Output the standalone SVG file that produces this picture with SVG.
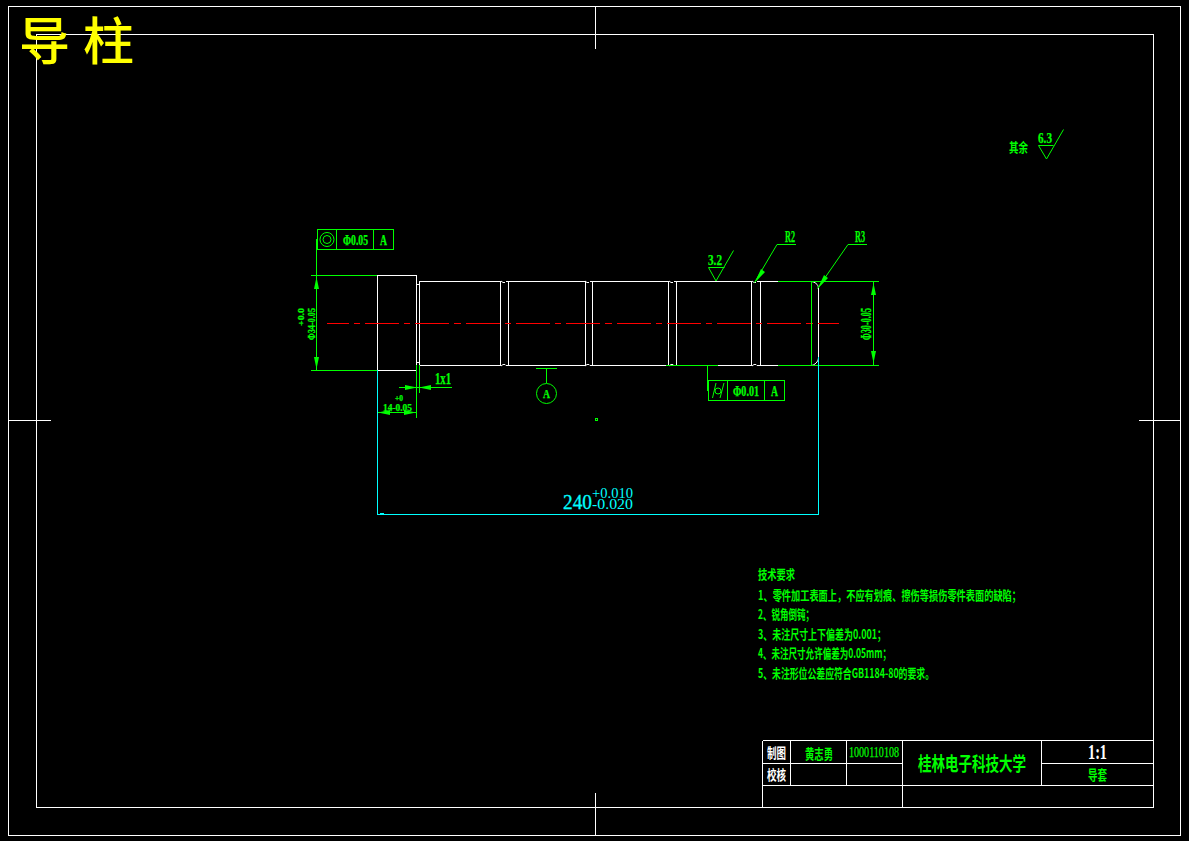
<svg xmlns="http://www.w3.org/2000/svg" width="1189" height="841" viewBox="0 0 1189 841">
<style>
.w{stroke:#fff;fill:none;stroke-width:1}
.g{stroke:#0f0;fill:none;stroke-width:1}
.c{stroke:#0ff;fill:none;stroke-width:1}
.r{stroke:#f00;fill:none;stroke-width:1;stroke-dasharray:34 5 6.3 5;stroke-dashoffset:12.3}
.t{font-family:"Noto Sans CJK SC","Liberation Sans",sans-serif;fill:#0f0;font-weight:700}
.d{font-family:"Liberation Serif","Noto Sans CJK SC",serif;fill:#0f0;font-weight:700;stroke:#0f0;stroke-width:.25}
.a{fill:#0f0;stroke:none}
</style>
<rect width="1189" height="841" fill="#000"/>
<g id="frame" shape-rendering="crispEdges">
<rect class="w" x="8.5" y="6.5" width="1172" height="829"/>
<rect class="w" x="36.5" y="34.5" width="1117" height="773"/>
<path class="w" d="M595.5 6V49M595.5 793V835M8 420.5H51M1139 420.5H1181"/>
</g>
<text id="title" x="19" y="60" font-size="51" textLength="115" lengthAdjust="spacing" style="font-family:'Noto Sans CJK SC',sans-serif;fill:#ff0;font-weight:500">导柱</text>
<g id="part">
<g shape-rendering="crispEdges">
<rect class="w" x="377.5" y="275.5" width="39" height="95"/>
<path class="w" d="M417 284.5H419M417 362.5H419"/>
<path class="w" d="M419.5 281.5H500.5V365.5H419.5Z"/>
<path class="w" d="M508.5 281.5H585.5V365.5H508.5Z"/>
<path class="w" d="M592.5 281.5H668.5V365.5H592.5Z"/>
<path class="w" d="M676.5 281.5H751.5V365.5H676.5Z"/>
<path class="w" d="M778 281.5H760.5V365.5H778"/>
<path class="w" d="M818.5 288V358"/>
</g>
<path class="w" d="M811 281.5C815 282 818 284 818.5 288M811 365.5C815 365 818 362 818.5 358"/>
<path class="w" d="M501 281L503 282.5H505M506 281.5H508M501 366L503 364.5H505L506 365.5H508M585 281L587 282.5H589M590 281.5H592M585 366L587 364.5H589L590 365.5H592M669 281L671 282.5H673M674 281.5H676M669 366L671 364.5H673L674 365.5H676M752 281L754 282.5H756M757 281.5H760M752 366L754 364.5H756L757 365.5H760"/>
</g>
<path id="centerline" class="r" d="M327 323.5H839" shape-rendering="crispEdges"/>
<g id="connectors">
<g shape-rendering="crispEdges">
<path class="g" d="M311 275.5H377M311 370.5H377M316.5 239V370M778 281.5H879M778 365.5H879M666 365.5H718M811.5 281V365M873.5 281V365M416.5 365V418M419.5 365V393M399 387.5H452M378 412.5H416M707.5 365V391"/>
<path class="c" d="M377.5 370V514.5H818.5V357M380 513.5H384"/>
</g>
<path class="a" d="M316.5 277L319 289H314ZM316.5 369L319 357H314ZM873.5 283L876 295H871ZM873.5 363L876 351H871ZM417 387.5L405 385V390ZM419 387.5L431 385V390ZM378 412.5L390 410V415ZM416 412.5L404 410V415Z"/>
<path class="g" d="M708.5 267.5H724.5M708.5 267.5L716 281L733.5 250.5"/>
<path class="g" d="M754.5 282.5L777 244.5H796M817.5 288.5L848 244.5H867"/>
<path class="a" d="M754.5 283L761 269L765 272ZM817.5 289L824 275L828 278Z"/>
<path class="g" d="M1038.5 145.5H1053.5M1038.5 145.5L1046.5 159L1063.5 129.5"/>
<path class="g" d="M536 368.5H557M546.5 368.5V383"/>
<circle class="g" cx="546.5" cy="393.5" r="10"/>
<rect class="g" x="595.5" y="418.5" width="2" height="2" shape-rendering="crispEdges"/>
</g>
<g id="fcf-top">
<rect class="g" x="317.5" y="229.5" width="76" height="20" shape-rendering="crispEdges"/>
<path class="g" d="M336.5 229V249M373.5 229V249" shape-rendering="crispEdges"/>
<circle class="g" cx="327" cy="239.5" r="7"/><circle class="g" cx="327" cy="239.5" r="4"/>
<text class="d" x="343" y="245" font-size="14" textLength="25" lengthAdjust="spacingAndGlyphs">Φ0.05</text>
<text class="d" x="380" y="245" font-size="14" textLength="7" lengthAdjust="spacingAndGlyphs">A</text>
</g>
<g id="fcf-bottom">
<rect class="g" x="708.5" y="380.5" width="76" height="20" shape-rendering="crispEdges"/>
<path class="g" d="M727.5 380V400M764.5 380V400" shape-rendering="crispEdges"/>
<path class="g" d="M712.5 398L716 383M720 398L724 383"/>
<circle class="g" cx="718" cy="391" r="3"/>
<text class="d" x="733" y="396" font-size="14" textLength="26" lengthAdjust="spacingAndGlyphs">Φ0.01</text>
<text class="d" x="771" y="396" font-size="14" textLength="7" lengthAdjust="spacingAndGlyphs">A</text>
</g>
<g id="dims">
<text class="d" x="708" y="265" font-size="15" textLength="14" lengthAdjust="spacingAndGlyphs">3.2</text>
<text class="d" x="785" y="242" font-size="16" textLength="10" lengthAdjust="spacingAndGlyphs">R2</text>
<text class="d" x="855" y="242" font-size="16" textLength="10" lengthAdjust="spacingAndGlyphs">R3</text>
<text class="d" x="1038" y="143" font-size="14" textLength="14" lengthAdjust="spacingAndGlyphs">6.3</text>
<text class="d" x="435" y="384" font-size="16" textLength="16" lengthAdjust="spacingAndGlyphs">1x1</text>
<text class="d" x="543" y="398" font-size="13" textLength="7" lengthAdjust="spacingAndGlyphs">A</text>
<text class="d" x="383" y="411" font-size="11" textLength="29" lengthAdjust="spacingAndGlyphs">14-0.05</text>
<text class="d" x="395" y="401" font-size="9" textLength="8" lengthAdjust="spacingAndGlyphs">+0</text>
<text class="d" transform="translate(315 340) rotate(-90)" font-size="11" textLength="32" lengthAdjust="spacingAndGlyphs">Φ34-0.05</text>
<text class="d" transform="translate(304 326) rotate(-90)" font-size="9" textLength="18" lengthAdjust="spacingAndGlyphs">+0.0</text>
<text class="d" transform="translate(871 340) rotate(-90)" font-size="14" textLength="32" lengthAdjust="spacingAndGlyphs">Φ30-0.05</text>
<text x="563" y="509" font-size="20" textLength="29" lengthAdjust="spacingAndGlyphs" style="font-family:'Liberation Serif',serif;fill:#0ff;stroke:#0ff;stroke-width:.3">240</text>
<text x="592" y="497.5" font-size="14" textLength="41" lengthAdjust="spacingAndGlyphs" style="font-family:'Liberation Serif',serif;fill:#0ff">+0.010</text>
<text x="592" y="509" font-size="14" textLength="41" lengthAdjust="spacingAndGlyphs" style="font-family:'Liberation Serif',serif;fill:#0ff">-0.020</text>
</g>
<text id="rest" class="t" x="1009" y="152" font-size="13" textLength="19" lengthAdjust="spacingAndGlyphs">其余</text>
<g id="notes" class="t" font-size="13">
<text x="758" y="579" textLength="37" lengthAdjust="spacingAndGlyphs">技术要求</text>
<text x="758" y="599.5" textLength="263" lengthAdjust="spacingAndGlyphs">1、零件加工表面上，不应有划痕、擦伤等损伤零件表面的缺陷；</text>
<text x="758" y="619" textLength="56" lengthAdjust="spacingAndGlyphs">2、锐角倒钝；</text>
<text x="758" y="638.5" textLength="128" lengthAdjust="spacingAndGlyphs">3、未注尺寸上下偏差为0.001；</text>
<text x="758" y="658" textLength="133" lengthAdjust="spacingAndGlyphs">4、未注尺寸允许偏差为0.05mm；</text>
<text x="758" y="678" textLength="176" lengthAdjust="spacingAndGlyphs">5、未注形位公差应符合GB1184-80的要求。</text>
</g>
<g id="titleblock">
<g shape-rendering="crispEdges">
<path class="w" d="M762.5 740.5H1153M762.5 740.5V807M762 763.5H902M1041 763.5H1153M762 785.5H1153M790.5 740V785M846.5 740V785M902.5 740V807M1041.5 740V785"/>
</g>
<text class="t" x="767" y="758" font-size="14" textLength="19" lengthAdjust="spacingAndGlyphs" style="fill:#fff">制图</text>
<text class="t" x="767" y="780" font-size="14" textLength="19" lengthAdjust="spacingAndGlyphs" style="fill:#fff">校核</text>
<text class="t" x="805" y="759" font-size="14" textLength="28" lengthAdjust="spacingAndGlyphs">黄志勇</text>
<text class="d" x="849" y="757" font-size="15" textLength="50" lengthAdjust="spacingAndGlyphs" style="font-weight:400">1000110108</text>
<text class="t" x="918" y="771" font-size="19" textLength="108" lengthAdjust="spacingAndGlyphs" font-weight="500">桂林电子科技大学</text>
<text x="1088" y="759" font-size="21" textLength="19" lengthAdjust="spacingAndGlyphs" style="font-family:'Liberation Serif',serif;fill:#fff;font-weight:700">1:1</text>
<text class="t" x="1088" y="780" font-size="14" textLength="19" lengthAdjust="spacingAndGlyphs">导套</text>
</g>
</svg>
